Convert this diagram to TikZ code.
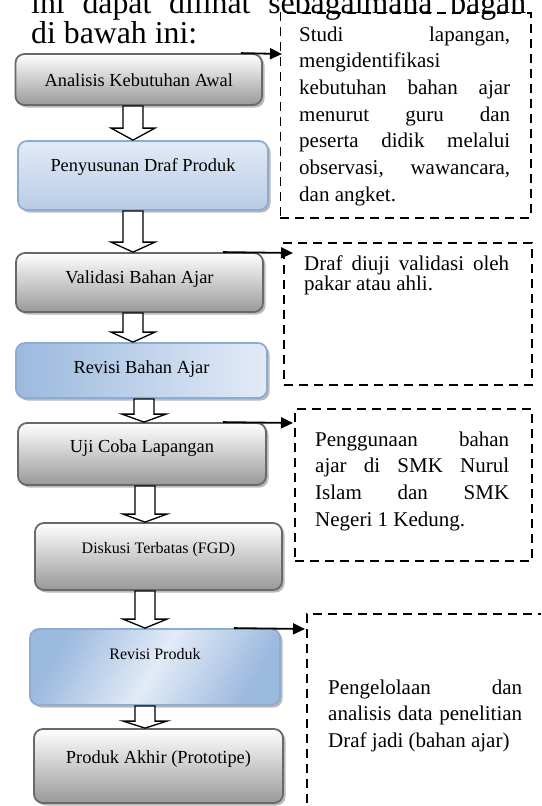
\documentclass[tikz,border=0pt]{standalone}
\usepackage{fontspec}
\setmainfont{Liberation Serif}
\usetikzlibrary{calc,shadows,arrows.meta}
\definecolor{bluebdr}{RGB}{140,172,212}
\definecolor{bluelt}{RGB}{226,235,247}
\definecolor{bluemd}{RGB}{184,204,230}
\definecolor{bluedk}{RGB}{156,185,222}
\definecolor{graybdr}{RGB}{105,105,105}
\newcommand\jl[2]{\makebox[#1][s]{#2}}
\newcommand\blockarr[4]{%
  \draw[barrow] let \p1=(#2.south), \p2=(#3.north) in
    (#1pt-10pt,\y1) -- (#1pt+10pt,\y1) -- (#1pt+10pt,\y2+#4pt) -- (#1pt+22pt,\y2+#4pt)
    -- (#1pt,\y2) -- (#1pt-22pt,\y2+#4pt) -- (#1pt-10pt,\y2+#4pt) -- cycle;}
\tikzset{
  boxbase/.style={rounded corners=9pt, line width=1.8pt, inner sep=0pt,
    drop shadow={shadow xshift=2.5pt, shadow yshift=-2.5pt, fill=black!30, opacity=0.9}},
  graybox/.style={boxbase, draw=graybdr, top color=white, bottom color=black!40},
  blueboxA/.style={boxbase, draw=bluebdr, top color=bluelt, bottom color=bluemd},
  blueboxB/.style={boxbase, draw=bluebdr, left color=bluedk, right color=bluelt},
  blueboxC/.style={boxbase, draw=bluebdr, left color=bluedk, right color=bluedk, middle color=bluelt, shading angle=60},
  btext/.style={inner sep=0pt, anchor=base, font=\fontsize{18.4}{22}\selectfont},
  bsmall/.style={inner sep=0pt, anchor=base, font=\fontsize{16}{20}\selectfont},
  htext/.style={inner sep=0pt, anchor=base west, font=\fontsize{31.8}{38}\selectfont},
  dtext/.style={inner sep=0pt, anchor=base west, font=\fontsize{21}{26.7}\selectfont},
  dtextB/.style={inner sep=0pt, anchor=base west, font=\fontsize{21}{19.5}\selectfont},
  dashbox/.style={draw, dash pattern=on 9pt off 6pt, line width=1.8pt, inner sep=0pt, anchor=north west},
  barrow/.style={draw=black, fill=white, line width=1.3pt, line join=miter},
  conn/.style={line width=1.8pt, -{Triangle[length=12pt,width=11pt]}}
}
\begin{document}
\begin{tikzpicture}[x=1pt,y=1pt]
\clip (0,0) rectangle (541,-806);
% header text
\node[htext] (h1) at (31,-13) {\makebox[495pt][s]{ini dapat dilihat sebagaimana bagan}};
\node[htext] (h2) at (31,-43) {di bawah ini:};

% flow boxes
\node[graybox,  minimum width=246.5pt, minimum height=51pt] (b1) at (138.75,-79.5) {};
\node[blueboxA, minimum width=250pt, minimum height=69pt] (b2) at (143,-175.5) {};
\node[graybox,  minimum width=247pt, minimum height=59pt] (b3) at (139.5,-282.5) {};
\node[blueboxB, minimum width=251pt, minimum height=55pt] (b4) at (141.5,-370.5) {};
\node[graybox,  minimum width=248pt, minimum height=62pt] (b5) at (142,-454) {};
\node[graybox,  minimum width=247pt, minimum height=67pt] (b6) at (158.5,-556.5) {};
\node[blueboxC, minimum width=250pt, minimum height=76pt] (b7) at (155,-667) {};
\node[graybox,  minimum width=249pt, minimum height=74pt] (b8) at (158.5,-766) {};

\node[btext] (t1) at (b1.center |- 0,-86) {Analisis Kebutuhan Awal};
\node[btext] (t2) at (b2.center |- 0,-171) {Penyusunan Draf Produk};
\node[btext] (t3) at (b3.center |- 0,-283) {Validasi Bahan Ajar};
\node[btext] (t4) at (b4.center |- 0,-373) {Revisi Bahan Ajar};
\node[btext] (t5) at (b5.center |- 0,-452) {Uji Coba Lapangan};
\node[bsmall] (t6) at (b6.center |- 0,-553) {Diskusi Terbatas (FGD)};
\node[bsmall] (t7) at (b7.center |- 0,-659) {Revisi Produk};
\node[btext] (t8) at (b8.center |- 0,-763) {Produk Akhir (Prototipe)};

% block arrows
\blockarr{133}{b1}{b2}{12}
\blockarr{133}{b2}{b3}{10}
\blockarr{133}{b3}{b4}{10}
\blockarr{144}{b4}{b5}{8}
\blockarr{145}{b5}{b6}{8}
\blockarr{145}{b6}{b7}{9}
\blockarr{145}{b7}{b8}{7}

% dashed boxes
\node[dashbox, minimum width=250.5pt, minimum height=205pt] (d1) at (279.5,-12) {};
\node[dashbox, minimum width=248pt, minimum height=142pt] (d2) at (283,-242) {};
\node[dashbox, minimum width=237pt, minimum height=152pt] (d3) at (294,-408) {};
\node[dashbox, minimum width=300pt, minimum height=300pt] (d4) at (306,-613) {};

% connectors
\coordinate (e1) at (282,-54);
\coordinate (e2) at (293,-253);
\coordinate (e3) at (293,-423);
\coordinate (e4) at (305,-629);
\draw[conn] ([xshift=-22pt]b1.north east) -- (e1);
\draw[conn] ([xshift=-41pt]b3.north east) -- (e2);
\draw[conn] ([xshift=-44pt]b5.north east) -- (e3);
\draw[conn] ([xshift=-47pt]b7.north east) -- (e4);

% dashed box texts
\node[dtext] (d1t) at (299,-41) {\begin{tabular}[t]{@{}l@{}}
\jl{211pt}{Studi lapangan,}\\
mengidentifikasi\\
\jl{211pt}{kebutuhan bahan ajar}\\
\jl{211pt}{menurut guru dan}\\
\jl{211pt}{peserta didik melalui}\\
\jl{211pt}{observasi, wawancara,}\\
dan angket.
\end{tabular}};
\node[dtextB] (d2t) at (304,-270) {\begin{tabular}[t]{@{}l@{}}
\jl{205pt}{Draf diuji validasi oleh}\\
pakar atau ahli.
\end{tabular}};
\node[dtext] (d3t) at (315,-446) {\begin{tabular}[t]{@{}l@{}}
\jl{194pt}{Penggunaan bahan}\\
\jl{194pt}{ajar di SMK Nurul}\\
\jl{194pt}{Islam dan SMK}\\
Negeri 1 Kedung.
\end{tabular}};
\node[dtext] (d4t) at (328,-694) {\begin{tabular}[t]{@{}l@{}}
\jl{194pt}{Pengelolaan dan}\\
\jl{194pt}{analisis data penelitian}\\
Draf jadi (bahan ajar)
\end{tabular}};
\end{tikzpicture}
\end{document}
